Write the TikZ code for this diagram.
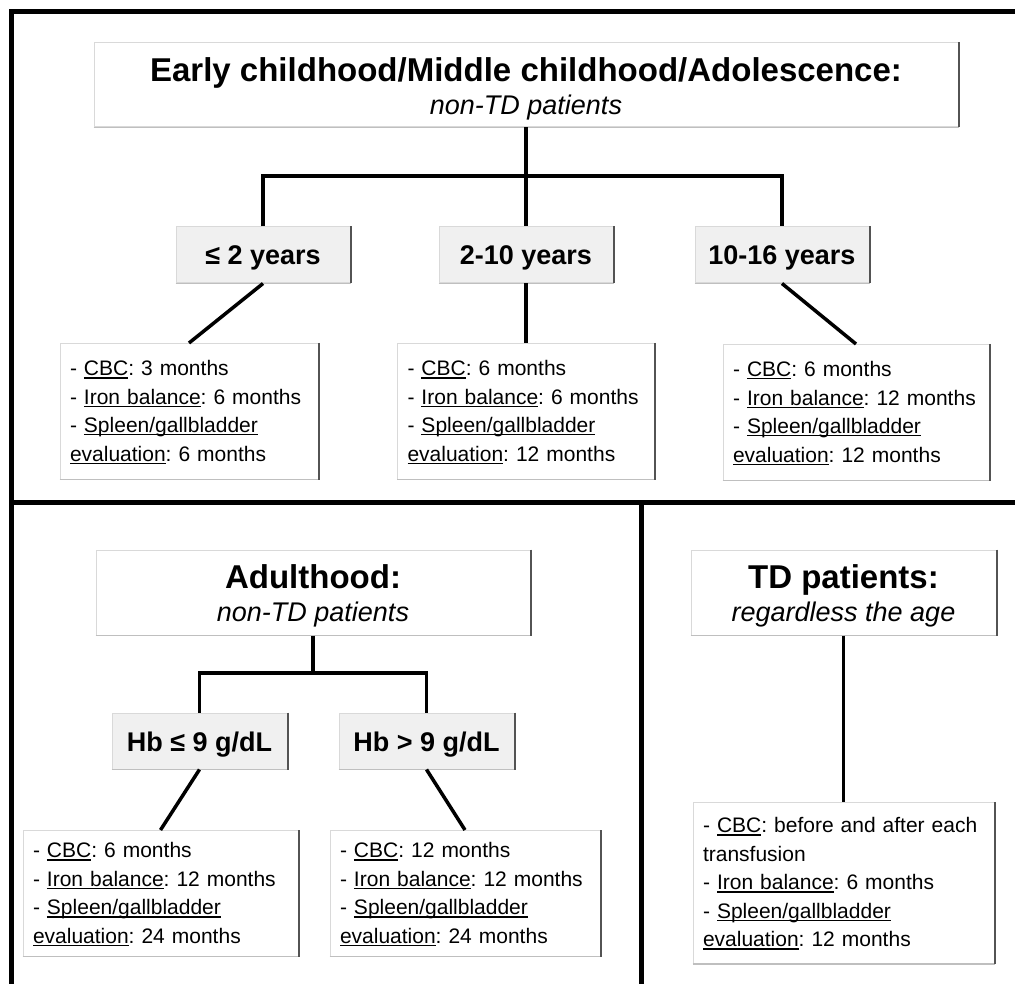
\documentclass[tikz,border=0pt]{standalone}
\usepackage{fontspec}
\setmainfont{Liberation Sans}
\frenchspacing

% underline at a fixed depth, struts for the first and last line of a box
\newcommand{\udl}[1]{\leavevmode\setbox0\hbox{#1}\rlap{\rule[-3pt]{\wd0}{1.2pt}}\box0}
\newcommand{\topstr}[1]{\rule{0pt}{#1}}
\newcommand{\botstr}[1]{\rule[-#1]{0pt}{#1}}

\begin{document}
\begin{tikzpicture}[x=1pt, y=-1pt,
    box/.style={draw=gray!30, line width=1pt, inner sep=0pt},
    headbox/.style={box, fill=white, align=center, font=\fontsize{27}{33}\selectfont},
    agebox/.style={box, fill=gray!12, minimum width=174pt, minimum height=56pt,
        text height=22pt, text depth=2pt, font=\fontsize{27}{27}\selectfont\bfseries},
    planbox/.style={box, fill=white, align=left, inner xsep=10pt, anchor=north,
        font=\fontsize{21}{28.5}\selectfont},
    linkline/.style={line width=3.5pt},
    framerule/.style={line width=5pt}]
    \useasboundingbox (0,0) rectangle (1015,984);

    % Draw Frame
    \draw[framerule] (1015,12) -- (11,12) -- (11,984);
    \draw[framerule] (11,502) -- (1015,502);
    \draw[framerule] (641,502) -- (641,984);

    % Top Part
    % -- header
    \node[headbox, minimum width=864pt, minimum height=84pt] (early) at (526,85)
        {\topstr{35pt}{\fontsize{33}{33}\selectfont\bfseries Early childhood/Middle childhood/Adolescence:}\\{\itshape non-TD patients}\botstr{8pt}};

    % -- age groups
    \node[agebox] (y2) at (263,255) {≤ 2 years};
    \node[agebox] (y2to10) at (526,255) {2-10 years};
    \node[agebox] (y10to16) at (782,255) {10-16 years};

    % -- follow-up
    \node[planbox, text width=238pt] (c1) at (189,343)
        {\topstr{32pt}- \udl{CBC}: 3 months\\- \udl{Iron balance}: 6 months\\- \udl{Spleen/gallbladder}\\\udl{evaluation}: 6 months\botstr{18pt}};
    \node[planbox, text width=237pt] (c2) at (526,343)
        {\topstr{32pt}- \udl{CBC}: 6 months\\- \udl{Iron balance}: 6 months\\- \udl{Spleen/gallbladder}\\\udl{evaluation}: 12 months\botstr{18pt}};
    \node[planbox, text width=246pt] (c3) at (856,344)
        {\topstr{32pt}- \udl{CBC}: 6 months\\- \udl{Iron balance}: 12 months\\- \udl{Spleen/gallbladder}\\\udl{evaluation}: 12 months\botstr{18pt}};

    % Bottom Left Part
    \node[headbox, minimum width=434pt, minimum height=85pt] (adult) at (313,592.5)
        {\topstr{33pt}{\fontsize{33}{33}\selectfont\bfseries Adulthood:}\\{\itshape non-TD patients}\botstr{9pt}};
    \node[agebox, minimum width=175pt] (hb1) at (199.5,741) {Hb ≤ 9 g/dL};
    \node[agebox, minimum width=175pt] (hb2) at (426.5,741) {Hb > 9 g/dL};
    \node[planbox, text width=255pt] (c4) at (160.5,830)
        {\topstr{27pt}- \udl{CBC}: 6 months\\- \udl{Iron balance}: 12 months\\- \udl{Spleen/gallbladder}\\\udl{evaluation}: 24 months\botstr{13pt}};
    \node[planbox, text width=250pt] (c5) at (465,830)
        {\topstr{27pt}- \udl{CBC}: 12 months\\- \udl{Iron balance}: 12 months\\- \udl{Spleen/gallbladder}\\\udl{evaluation}: 24 months\botstr{13pt}};

    % Bottom Right Part
    \node[headbox, minimum width=305pt, minimum height=85pt] (td) at (843.5,592.5)
        {\topstr{33pt}{\fontsize{33}{33}\selectfont\bfseries TD patients:}\\{\itshape regardless the age}\botstr{9pt}};
    \node[planbox, text width=281pt] (c6) at (843.5,802)
        {\topstr{30pt}- \udl{CBC}: before and after each\\transfusion\\- \udl{Iron balance}: 6 months\\- \udl{Spleen/gallbladder}\\\udl{evaluation}: 12 months\botstr{17pt}};

    % Box Shadows
    \foreach \n in {early,y2,y2to10,y10to16,c1,c2,c3,adult,hb1,hb2,c4,c5,td,c6} {
        \draw[gray!50, line width=1.5pt] (\n.south west) -- (\n.south east);
        \draw[gray!65!black, line width=2pt] (\n.north east) -- (\n.south east);
    }

    % Connectors
    % -- top
    \coordinate (j1) at (526,176);
    \draw[linkline] (early) -- (j1);
    \draw[linkline] (y2.north) |- (j1) -| (y10to16.north);
    \draw[linkline] (j1) -- (y2to10);
    \draw[linkline] (y2.south) -- (c1.north);
    \draw[linkline] (y2to10.south) -- (c2.north);
    \draw[linkline] (y10to16.south) -- (c3.north);

    % -- bottom left
    \coordinate (j2) at (313,673);
    \draw[linkline] (adult) -- (j2);
    \draw[linkline] (hb1.north) |- (j2) -| (hb2.north);
    \draw[linkline] (hb1.south) -- (c4.north);
    \draw[linkline] (hb2.south) -- (c5.north);

    % -- bottom right
    \draw[linkline] (td) -- (c6);
\end{tikzpicture}
\end{document}
